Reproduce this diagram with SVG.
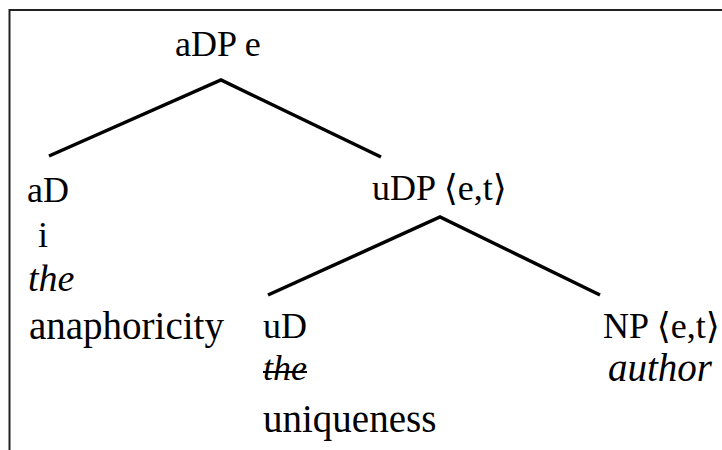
<svg xmlns="http://www.w3.org/2000/svg" width="722" height="450" viewBox="0 0 722 450">
<style>
text{font-family:"Liberation Serif","Times New Roman","DejaVu Serif",serif;fill:#000;}
.lab{font-size:36px;}
.big{font-size:39px;}
.it{font-style:italic;}
.edge{stroke:#000;stroke-width:3.5;fill:none;stroke-linecap:butt;stroke-linejoin:miter;}
</style>
<rect x="0" y="0" width="722" height="450" fill="#fff"/>
<path d="M9.5 450 V10 H722" fill="none" stroke="#222" stroke-width="2"/>
<g id="connectors">
<polyline class="edge" points="49,156 221,80 381,157"/>
<polyline class="edge" points="268,295 440,217 600,295"/>
</g>
<g id="aDP"><text class="lab" x="175" y="56">aDP e</text></g>
<g id="aD">
<text class="lab" x="27" y="202">aD</text>
<text class="lab" x="38" y="247">i</text>
<text class="lab it" x="28" y="291" style="font-size:38px">the</text>
<text class="big" x="29" y="339">anaphoricity</text>
</g>
<g id="uDP"><text class="lab" x="372" y="200">uDP ⟨e,t⟩</text></g>
<g id="uD">
<text class="lab" x="263" y="338">uD</text>
<text class="lab it" x="263" y="380">the</text>
<line x1="263" y1="372" x2="307" y2="372" stroke="#000" stroke-width="2"/>
<text class="big" x="263" y="432">uniqueness</text>
</g>
<g id="NP">
<text class="lab" x="603" y="338">NP ⟨e,t⟩</text>
<text class="big it" x="608" y="381">author</text>
</g>
</svg>
